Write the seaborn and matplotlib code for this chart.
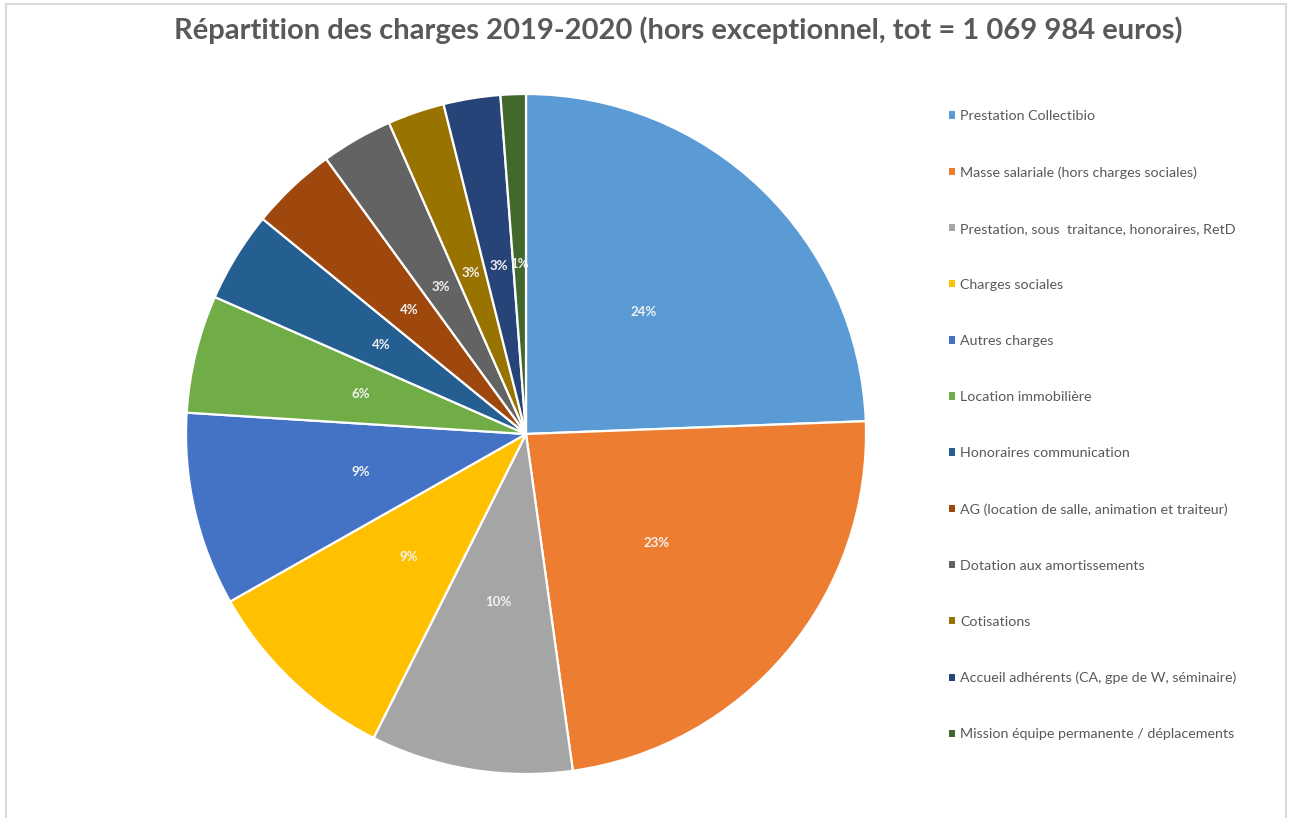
import matplotlib
matplotlib.use("Agg")
import matplotlib.pyplot as plt
import seaborn as sns
from matplotlib.patches import Patch
from matplotlib.lines import Line2D

categories = [
    "Prestation Collectibio",
    "Masse salariale (hors charges sociales)",
    "Prestation, sous  traitance, honoraires, RetD",
    "Charges sociales",
    "Autres charges",
    "Location immobilière",
    "Honoraires communication",
    "AG (location de salle, animation et traiteur)",
    "Dotation aux amortissements",
    "Cotisations",
    "Accueil adhérents (CA, gpe de W, séminaire)",
    "Mission équipe permanente / déplacements",
]
shares = [24.4, 23.4, 9.6, 9.4, 9.2, 5.6, 4.3, 4.1, 3.4, 2.7, 2.7, 1.2]
colors = ["#5B9BD5", "#ED7D31", "#A5A5A5", "#FFC000", "#4472C4", "#70AD47",
          "#255E91", "#9E480E", "#636363", "#997300", "#264478", "#43682B"]
title = "Répartition des charges 2019-2020 (hors exceptionnel, tot = 1 069 984 euros)"

sns.set_theme(style="white")
plt.rcParams['font.family'] = ['Lato', 'DejaVu Sans']

W, H = 1289, 818
fig = plt.figure(figsize=(W / 100, H / 100), dpi=100)
fig.patch.set_facecolor("white")

# pie centred at (526, 434) px, radius 340 px
cx, cy, r = 526, 434, 340
ax = fig.add_axes([(cx - r) / W, (H - cy - r) / H, 2 * r / W, 2 * r / H])
wedges, _, autotexts = ax.pie(
    shares, colors=colors, startangle=90, counterclock=False,
    autopct=lambda p: f"{p:.0f}%", pctdistance=0.5,
    wedgeprops=dict(edgecolor="white", linewidth=1.6),
    textprops=dict(color="#F2F2F2", fontsize=9.5, fontweight="bold"))
ax.set_xlim(-1, 1)
ax.set_ylim(-1, 1)
ax.set_aspect("equal")
ax.axis("off")

fig.text(678 / W, 1 - 30 / H, title, ha="center", va="center",
         fontsize=21, fontweight="bold", color="#595959")

handles = [Patch(facecolor=c, edgecolor="none") for c in colors]
fig.legend(handles, categories, loc="upper left",
           bbox_to_anchor=(942 / W, 1 - 103 / H), frameon=False,
           fontsize=10.3, labelcolor="#595959", handlelength=0.42,
           handleheight=0.42, handletextpad=0.35, labelspacing=3.08,
           borderpad=0)

# chart-area frame
frame = dict(color="#D9D9D9", linewidth=1.5, transform=fig.transFigure)
fig.add_artist(Line2D([6 / W, 6 / W], [0, 1 - 4 / H], **frame))
fig.add_artist(Line2D([6 / W, 1286 / W], [1 - 4 / H, 1 - 4 / H], **frame))
fig.add_artist(Line2D([1286 / W, 1286 / W], [0, 1 - 4 / H], **frame))

fig.savefig("out.png", dpi=100)
